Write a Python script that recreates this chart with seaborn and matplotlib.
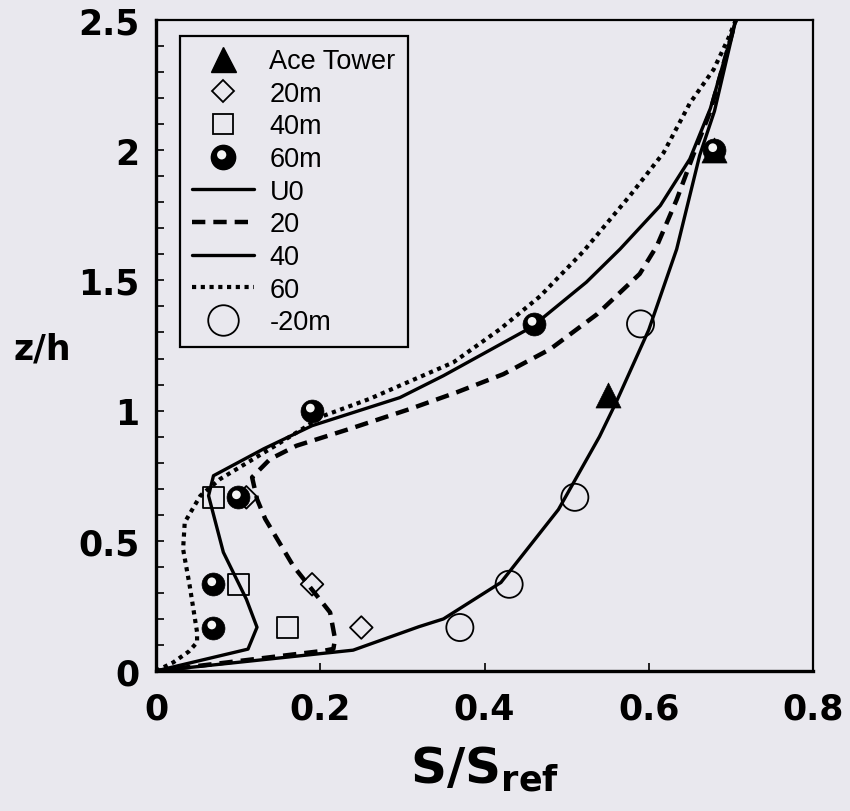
import numpy as np
import matplotlib
matplotlib.use("Agg")
import matplotlib.pyplot as plt
from matplotlib.lines import Line2D
from matplotlib.path import Path
import seaborn as sns

# ---------------- data ----------------
# model curves (S/Sref vs z/h)
u0_x = [0, 0.24, 0.32, 0.35, 0.42, 0.49, 0.54, 0.56, 0.60, 0.634, 0.662, 0.68, 0.706]
u0_y = [0, 0.08, 0.17, 0.20, 0.34, 0.62, 0.90, 1.03, 1.31, 1.62, 1.98, 2.15, 2.5]

c20_x = [0, 0.205, 0.216, 0.218, 0.212, 0.167, 0.133, 0.123, 0.117, 0.139, 0.171, 0.236,
         0.309, 0.366, 0.423, 0.48, 0.537, 0.589, 0.61, 0.634, 0.654, 0.675, 0.706]
c20_y = [0, 0.078, 0.085, 0.123, 0.225, 0.404, 0.584, 0.66, 0.744, 0.814, 0.865, 0.93,
         1.006, 1.07, 1.14, 1.236, 1.37, 1.525, 1.633, 1.81, 1.98, 2.15, 2.5]

c40_x = [0, 0.112, 0.123, 0.11, 0.082, 0.064, 0.07, 0.131, 0.19, 0.297, 0.35, 0.457,
         0.524, 0.565, 0.614, 0.65, 0.675, 0.706]
c40_y = [0, 0.084, 0.168, 0.276, 0.456, 0.673, 0.75, 0.853, 0.942, 1.05, 1.134, 1.32,
         1.493, 1.62, 1.787, 1.966, 2.16, 2.5]

c60_x = [0, 0.021, 0.04, 0.05, 0.05, 0.041, 0.033, 0.035, 0.054, 0.078, 0.139, 0.204,
         0.26, 0.297, 0.362, 0.419, 0.468, 0.52, 0.577, 0.618, 0.65, 0.679, 0.697, 0.706]
c60_y = [0, 0.033, 0.075, 0.11, 0.149, 0.328, 0.468, 0.571, 0.673, 0.737, 0.853, 0.98,
         1.045, 1.096, 1.185, 1.313, 1.44, 1.61, 1.825, 1.99, 2.18, 2.31, 2.43, 2.5]

# measurements
ace_x = [0.55, 0.68]
ace_y = [1.06, 2.0]
m20_x = [0.25, 0.19, 0.11]
m20_y = [0.167, 0.333, 0.667]
m40_x = [0.16, 0.10, 0.07]
m40_y = [0.167, 0.333, 0.667]
m60_x = [0.07, 0.07, 0.10, 0.19, 0.46, 0.68]
m60_y = [0.167, 0.333, 0.667, 1.0, 1.333, 2.0]
mneg20_x = [0.37, 0.43, 0.51, 0.59]
mneg20_y = [0.167, 0.333, 0.667, 1.333]

x_ticks = [0, 0.2, 0.4, 0.6, 0.8]
x_tick_labels = ["0", "0.2", "0.4", "0.6", "0.8"]
y_ticks = [0, 0.5, 1, 1.5, 2, 2.5]
y_tick_labels = ["0", "0.5", "1", "1.5", "2", "2.5"]

legend_labels = ["Ace Tower", "20m", "40m", "60m", "U0", "20", "40", "60", "-20m"]

# ---------------- style ----------------
BG = "#e9e8ee"
sns.set_theme(style="white")
plt.rcParams["font.family"] = ["Liberation Sans", "DejaVu Sans"]
for k in ["text.color", "axes.labelcolor", "xtick.color", "ytick.color"]:
    plt.rcParams[k] = "black"
plt.rcParams["mathtext.fontset"] = "custom"
plt.rcParams["mathtext.rm"] = "DejaVu Sans:bold"
plt.rcParams["mathtext.bf"] = "DejaVu Sans:bold"

fig = plt.figure(figsize=(8.5, 8.12), dpi=100, facecolor=BG)
L, R, T, B = 156, 813, 21, 672
ax = fig.add_axes([L / 850, 1 - B / 812, (R - L) / 850, (B - T) / 812])
ax.set_facecolor(BG)

# highlight marker for the "sphere" symbol
circ = Path.circle(center=(-0.15, 0.22), radius=0.38)
hl_verts = np.vstack([[[1, 1]], [[-1, -1]], circ.vertices])
hl_codes = np.concatenate([[Path.MOVETO, Path.MOVETO], circ.codes])
HL = Path(hl_verts, hl_codes)

lw = 2.4
DASH = [3.0, 1.8]
DOT = [1.0, 1.1]
sns.lineplot(x=u0_x, y=u0_y, sort=False, estimator=None, ax=ax, color="black", lw=lw)
sns.lineplot(x=c40_x, y=c40_y, sort=False, estimator=None, ax=ax, color="black", lw=lw)
sns.lineplot(x=c20_x, y=c20_y, sort=False, estimator=None, ax=ax, color="black", lw=lw + 0.8)
ax.lines[-1].set_dashes(DASH)
sns.lineplot(x=c60_x, y=c60_y, sort=False, estimator=None, ax=ax, color="black", lw=lw + 0.6)
ax.lines[-1].set_dashes(DOT)

ms_circle = 19.5
ms_sphere = 16.5
ms_tri = 18
ms_sq = 15
ms_dia = 11.5
sns.scatterplot(x=mneg20_x, y=mneg20_y, ax=ax, marker="o", s=ms_circle ** 2,
                facecolor="none", edgecolor="black", linewidth=1.3, zorder=5)
sns.scatterplot(x=m40_x, y=m40_y, ax=ax, marker="s", s=ms_sq ** 2,
                facecolor="none", edgecolor="black", linewidth=1.3, zorder=5)
sns.scatterplot(x=m20_x, y=m20_y, ax=ax, marker="D", s=ms_dia ** 2,
                facecolor="none", edgecolor="black", linewidth=1.3, zorder=5)
sns.scatterplot(x=ace_x, y=ace_y, ax=ax, marker="^", s=ms_tri ** 2,
                color="black", edgecolor="black", linewidth=0.5, zorder=6)
sns.scatterplot(x=m60_x, y=m60_y, ax=ax, marker="o", s=ms_sphere ** 2,
                color="black", edgecolor="black", linewidth=0.5, zorder=7)
sns.scatterplot(x=m60_x, y=m60_y, ax=ax, marker=HL, s=ms_sphere ** 2,
                color="#f4f4f4", edgecolor="none", linewidth=0, zorder=8)

ax.set_xlim(0, 0.8)
ax.set_ylim(0, 2.5)
ax.set_xticks(x_ticks)
ax.set_xticklabels(x_tick_labels)
ax.set_yticks(y_ticks)
ax.set_yticklabels(y_tick_labels)
ax.set_yticks(np.arange(0, 2.5001, 0.1), minor=True)
ax.tick_params(axis="both", which="both", direction="in", length=6, width=1.2,
               color="black", left=True, bottom=True, top=False, right=False)
ax.tick_params(axis="x", which="major", pad=15, labelsize=25)
ax.tick_params(axis="y", which="major", pad=12, labelsize=25)
for lab in ax.get_xticklabels() + ax.get_yticklabels():
    lab.set_fontweight("bold")
    lab.set_fontfamily("DejaVu Sans")
for side, w in [("left", 2.4), ("bottom", 2.4), ("top", 1.6), ("right", 1.6)]:
    ax.spines[side].set_visible(True)
    ax.spines[side].set_color("black")
    ax.spines[side].set_linewidth(w)

ax.set_xlabel(r"S/S$_{\mathbf{ref}}$", fontsize=36, fontweight="bold", labelpad=13,
              fontfamily="DejaVu Sans")
ax.set_ylabel("z/h", fontsize=25, fontweight="bold", rotation=0, labelpad=0,
              fontfamily="DejaVu Sans", va="center", ha="center")
ax.yaxis.set_label_coords((42 - L) / (R - L), (B - 350) / (B - T))

# legend
handles = [
    Line2D([], [], ls="none", marker="^", ms=ms_tri, color="black"),
    Line2D([], [], ls="none", marker="D", ms=ms_dia, mfc="none", mec="black", mew=1.3),
    Line2D([], [], ls="none", marker="s", ms=ms_sq, mfc="none", mec="black", mew=1.3),
    (Line2D([], [], ls="none", marker="o", ms=17.5, color="black"),
     Line2D([], [], ls="none", marker=HL, ms=17.5, color="#f4f4f4", mec="none")),
    Line2D([], [], color="black", lw=lw),
    Line2D([], [], color="black", lw=lw + 0.8, dashes=DASH),
    Line2D([], [], color="black", lw=lw),
    Line2D([], [], color="black", lw=lw + 0.6, dashes=DOT),
    Line2D([], [], ls="none", marker="o", ms=22, mfc="none", mec="black", mew=1.3),
]
leg = ax.legend(handles, legend_labels, loc="upper left",
                bbox_to_anchor=((180 - L) / (R - L), (B - 37) / (B - T)),
                frameon=True, fancybox=False, shadow=False, framealpha=1,
                facecolor=BG, edgecolor="black", fontsize=19.5,
                handlelength=2.3, handletextpad=0.55, labelspacing=0.245,
                borderpad=0.45, borderaxespad=0)
leg.get_frame().set_linewidth(1.6)

fig.savefig("out.png", dpi=100, facecolor=BG)
